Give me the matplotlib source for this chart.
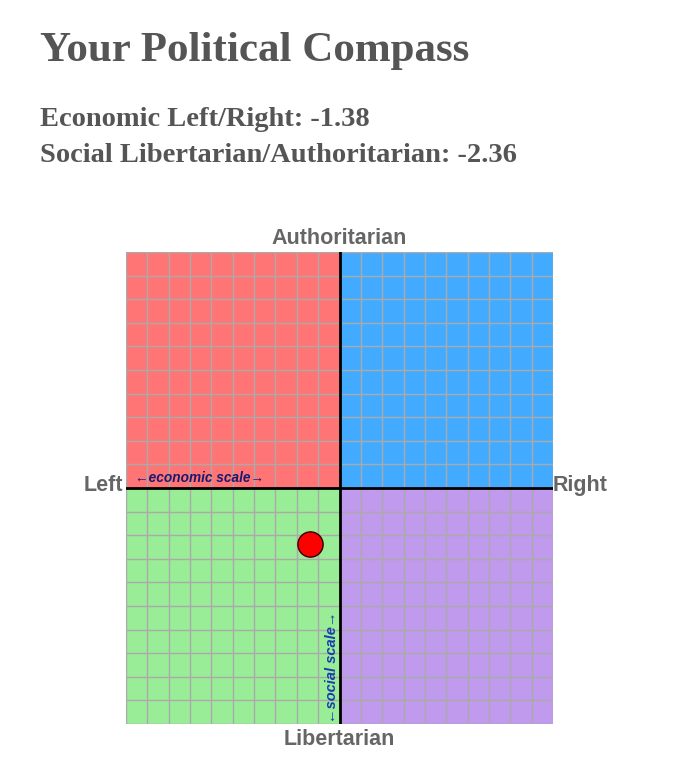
import matplotlib
matplotlib.use('Agg')
import matplotlib.pyplot as plt
from matplotlib.patches import Rectangle

# results
economic = -1.38
social = -2.36

# quadrants: (x0, y0, colour)
quad_x = [-10, 0, -10, 0]
quad_y = [0, 0, -10, -10]
quad_colors = ['#ff7575', '#42aaff', '#9aed97', '#c09aec']

grid_ticks = list(range(-10, 11))

W, H = 690, 763
fig = plt.figure(figsize=(W / 100, H / 100), dpi=100)

serif = ['Liberation Serif', 'DejaVu Serif']
sans = ['Liberation Sans', 'DejaVu Sans']
txt_grey = '#555555'

fig.text(40 / W, 1 - 51 / H, 'Your Political Compass', family=serif, weight='bold',
         fontsize=31, color=txt_grey, va='center', ha='left')
fig.text(40 / W, 1 - 119 / H, 'Economic Left/Right: %.2f' % economic, family=serif,
         weight='bold', fontsize=20.5, color=txt_grey, va='center', ha='left')
fig.text(40 / W, 1 - 156 / H, 'Social Libertarian/Authoritarian: %.2f' % social,
         family=serif, weight='bold', fontsize=20.5, color=txt_grey, va='center', ha='left')

ax = fig.add_axes([126 / W, 1 - 724 / H, 427 / W, 472 / H])
ax.set_xlim(-10, 10)
ax.set_ylim(-10, 10)

for x0, y0, c in zip(quad_x, quad_y, quad_colors):
    ax.add_patch(Rectangle((x0, y0), 10, 10, facecolor=c, edgecolor='none', zorder=0))

for t in grid_ticks:
    ax.axvline(t, color='#aaaaaa', lw=1.0, zorder=1)
    ax.axhline(t, color='#aaaaaa', lw=1.0, zorder=1)

ax.axvline(0, color='black', lw=2, zorder=2)
ax.axhline(0, color='black', lw=2, zorder=2)

ax.scatter([economic], [social], s=330, color='#ff0000', edgecolor='#330000', lw=1, zorder=4)

ax.text(-9.6, 0.12, '\u2190economic scale\u2192', family=sans, style='italic', weight='bold',
        fontsize=9.8, color='#191970', ha='left', va='bottom', zorder=3)
ax.text(-0.04, -9.95, '\u2190social scale\u2192', family=sans, style='italic', weight='bold',
        fontsize=10.5, color='#1a3cb0', ha='right', va='bottom', rotation=90, zorder=3)

for s in ax.spines.values():
    s.set_visible(False)
ax.set_xticks([])
ax.set_yticks([])

lab = dict(family=sans, weight='bold', fontsize=15.5, color='#666666')
ax.text(0, 10.12, 'Authoritarian', ha='center', va='bottom', **lab)
ax.text(0, -10.2, 'Libertarian', ha='center', va='top', **lab)
ax.text(-10.15, 0.1, 'Left', ha='right', va='center', **lab)
ax.text(10.0, 0.1, 'Right', ha='left', va='center', **lab)

fig.savefig('out.png', dpi=100)
